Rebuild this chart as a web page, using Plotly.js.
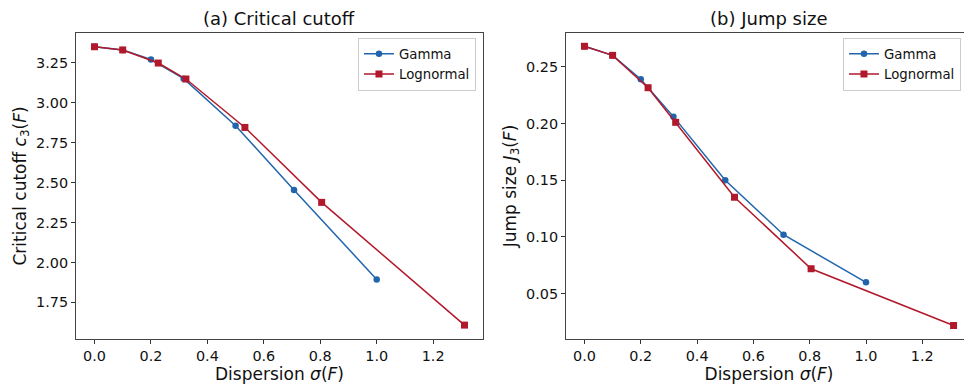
<!DOCTYPE html>
<html>
<head>
<meta charset="utf-8">
<script src="https://cdn.plot.ly/plotly-3.0.1.min.js"></script>
<style>
html, body { margin: 0; padding: 0; overflow: hidden; background: #fff; }
#chart { width: 980px; height: 384px; }
</style>
</head>
<body>
<div id="chart"></div>
<script>
// Data
const gammaSigma = [0, 0.1, 0.2, 0.316, 0.5, 0.707, 1.0];
const gammaCutoff = [3.35, 3.33, 3.27, 3.15, 2.856, 2.453, 1.894];
const gammaJump = [0.268, 0.260, 0.239, 0.206, 0.150, 0.102, 0.060];
const lognormalSigma = [0, 0.100, 0.226, 0.324, 0.533, 0.805, 1.311];
const lognormalCutoff = [3.35, 3.33, 3.248, 3.148, 2.845, 2.376, 1.608];
const lognormalJump = [0.268, 0.260, 0.2315, 0.201, 0.135, 0.072, 0.022];
const seriesNames = ["Gamma", "Lognormal"];
const panelTitles = ["(a) Critical cutoff", "(b) Jump size"];

const BLUE = "#2166ac", RED = "#b2182b";
const FONT = "DejaVu Sans, sans-serif";

function tr(x, y, name, color, symbol, size, xa, ya, legend) {
  return {
    x: x, y: y, name: name, type: "scatter", mode: "lines+markers",
    line: {color: color, width: 1.5},
    marker: {color: color, symbol: symbol, size: size},
    xaxis: xa, yaxis: ya, legend: legend
  };
}
const data = [
  tr(gammaSigma, gammaCutoff, seriesNames[0], BLUE, "circle", 6.5, "x", "y", "legend"),
  tr(lognormalSigma, lognormalCutoff, seriesNames[1], RED, "square", 7, "x", "y", "legend"),
  tr(gammaSigma, gammaJump, seriesNames[0], BLUE, "circle", 6.5, "x2", "y2", "legend2"),
  tr(lognormalSigma, lognormalJump, seriesNames[1], RED, "square", 7, "x2", "y2", "legend2")
];

const xCommon = {
  range: [-0.0655, 1.3765], dtick: 0.2, tick0: 0, tickformat: ".1f",
  showgrid: false, zeroline: false, showline: true, mirror: true,
  linecolor: "#444", linewidth: 1, ticks: "outside", ticklen: 4, tickcolor: "#333",
  tickfont: {family: FONT, size: 14.4, color: "#111"},
  title: {text: "Dispersion <i>σ</i>(<i>F</i>)", font: {family: FONT, size: 17, color: "#111"}, standoff: 2}
};
const yCommon = {
  showgrid: false, zeroline: false, showline: true, mirror: true,
  linecolor: "#444", linewidth: 1, ticks: "outside", ticklen: 4, tickcolor: "#333",
  tickfont: {family: FONT, size: 14.4, color: "#111"}, tickformat: ".2f"
};
const legendCommon = {
  bgcolor: "rgba(255,255,255,0.9)", bordercolor: "#ccc", borderwidth: 1,
  font: {family: FONT, size: 13.3, color: "#111"}, yanchor: "top", y: 0.985,
  tracegroupgap: 2
};

const layout = {
  width: 980, height: 384,
  margin: {l: 76, r: 8, t: 33, b: 45},
  paper_bgcolor: "#fff", plot_bgcolor: "#fff",
  font: {family: FONT, color: "#111"},
  xaxis: Object.assign({}, xCommon, {domain: [0, 0.4542], anchor: "y"}),
  xaxis2: Object.assign({}, xCommon, {domain: [0.5469, 1], anchor: "y2"}),
  yaxis: Object.assign({}, yCommon, {range: [1.521, 3.436], dtick: 0.25, tick0: 0, anchor: "x",
    title: {text: "Critical cutoff <i>c</i><sub>3</sub>(<i>F</i>)", font: {family: FONT, size: 17, color: "#111"}, standoff: 5}}),
  yaxis2: Object.assign({}, yCommon, {range: [0.0101, 0.2797], dtick: 0.05, tick0: 0, anchor: "x2",
    title: {text: "Jump size <i>J</i><sub>3</sub>(<i>F</i>)", font: {family: FONT, size: 17, color: "#111"}, standoff: 5}}),
  legend: Object.assign({}, legendCommon, {x: 0.4464, xanchor: "right"}),
  legend2: Object.assign({}, legendCommon, {x: 0.856, xanchor: "left"}),
  annotations: [
    {text: panelTitles[0], xref: "paper", yref: "paper", x: 0.2271, y: 1.046, xanchor: "center", yanchor: "middle",
     showarrow: false, font: {family: FONT, size: 18, color: "#111"}},
    {text: panelTitles[1], xref: "paper", yref: "paper", x: 0.7734, y: 1.046, xanchor: "center", yanchor: "middle",
     showarrow: false, font: {family: FONT, size: 18, color: "#111"}}
  ],
  showlegend: true
};

Plotly.newPlot("chart", data, layout, {displayModeBar: false, staticPlot: true});
</script>
</body>
</html>
